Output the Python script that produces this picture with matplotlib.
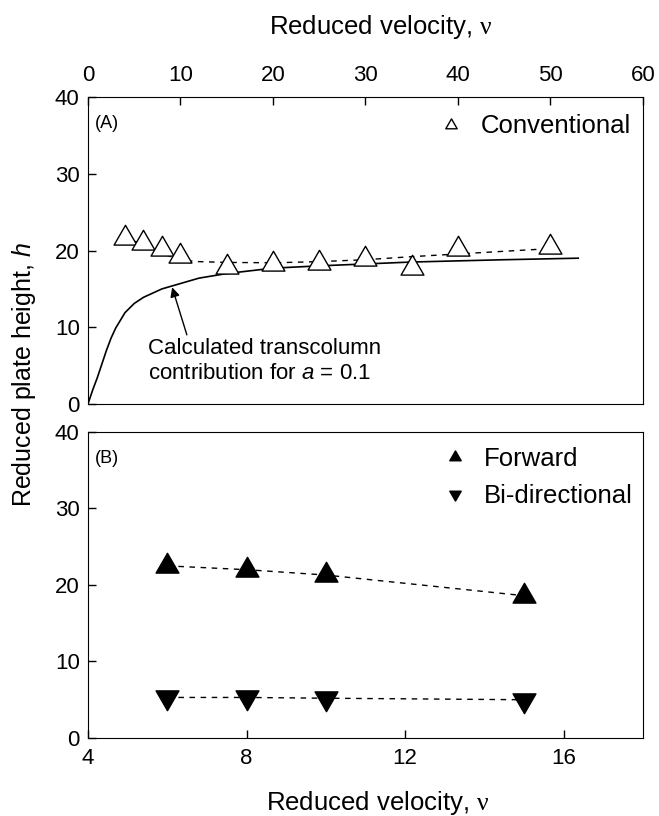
import matplotlib
matplotlib.use("Agg")
import matplotlib.pyplot as plt
from matplotlib.path import Path

plt.rcParams["font.family"] = "Liberation Sans"
plt.rcParams["mathtext.fontset"] = "custom"
plt.rcParams["mathtext.rm"] = "Liberation Serif"
plt.rcParams["mathtext.it"] = "Liberation Sans:italic"

# =========================
# Data
# =========================
# (A) conventional
conv_v = [4, 6, 8, 10, 15, 20, 25, 30, 35, 40, 50]
conv_h = [21.65, 21.0, 20.2, 19.3, 17.8, 18.2, 18.4, 18.85, 17.75, 20.25, 20.5]

# dashed fit through the conventional points
conv_fit_v = [4, 6, 8, 10, 12, 15, 20, 25, 30, 35, 40, 45, 50]
conv_fit_h = [21.8, 20.7, 19.6, 18.75, 18.55, 18.45, 18.4, 18.55, 18.8, 19.2, 19.55, 19.9, 20.25]

# calculated transcolumn contribution (solid curve)
calc_v = [0, 0.5, 1, 1.5, 2, 2.5, 3, 4, 5, 6, 8, 10, 12, 15, 20, 25, 30, 35, 40, 45, 53]
calc_h = [0, 1.8, 3.4, 5.2, 7.0, 8.6, 9.9, 11.9, 13.1, 13.9, 15.0, 15.7, 16.4, 17.0, 17.7, 18.0, 18.25, 18.5, 18.65, 18.8, 19.0]

# (B) forward / bi-directional
fb_v = [6, 8, 10, 15]
fwd_h = [22.5, 22.0, 21.3, 18.6]
bi_h = [5.3, 5.3, 5.2, 5.0]

# equilateral triangles centred on their centroid
up_tri = Path([(-1, -0.577), (1, -0.577), (0, 1.155), (-1, -0.577)], closed=True)
down_tri = Path([(-1, 0.577), (1, 0.577), (0, -1.155), (-1, 0.577)], closed=True)

fig = plt.figure(figsize=(6.59, 8.16), dpi=100)
ax1 = fig.add_axes([0.1335, 0.5049, 0.8422, 0.3762])
ax2 = fig.add_axes([0.1335, 0.0956, 0.8422, 0.3750])

tick_fs = 16
leg_fs = 18.5
dash = (0, (4, 4))

# =========================
# Panel A
# =========================
ax1.plot(conv_fit_v, conv_fit_h, color="black", lw=1, linestyle=dash)
ax1.plot(calc_v, calc_h, color="black", lw=1.2)
ax1.plot(conv_v, conv_h, linestyle="none", marker=up_tri, ms=19,
         mfc="white", mec="black", mew=1, label="Conventional")

ax1.set_xlim(0, 60)
ax1.set_ylim(0, 40)
ax1.set_xticks([0, 10, 20, 30, 40, 50, 60])
ax1.set_yticks([0, 10, 20, 30, 40])
ax1.xaxis.tick_top()
ax1.tick_params(direction="in", length=6, width=1, labelsize=tick_fs, top=True,
                bottom=False, left=True, right=False)
ax1.tick_params(axis="x", pad=8)
ax1.tick_params(axis="y", pad=6)
ax1.text(0.012, 0.915, "(A)", transform=ax1.transAxes, fontsize=13, va="center")

ax1.annotate("Calculated transcolumn\ncontribution for $\\mathit{a}$ = 0.1",
             xy=(9.1, 15.2), xytext=(6.5, 5.6), fontsize=16,
             ha="left", va="center", linespacing=1.3,
             arrowprops=dict(arrowstyle="-|>", color="black", lw=1,
                             shrinkA=0, shrinkB=0, mutation_scale=14,
                             relpos=(0.17, 1.0)))

ax1.legend(loc="upper right", bbox_to_anchor=(1.009, 1.0), frameon=False,
           fontsize=leg_fs, markerscale=0.5, handlelength=1.0,
           handletextpad=0.63, borderaxespad=0.28)

# =========================
# Panel B
# =========================
ax2.plot(fb_v, fwd_h, color="black", lw=1, linestyle=dash)
ax2.plot(fb_v, bi_h, color="black", lw=1, linestyle=dash)
ax2.plot(fb_v, fwd_h, linestyle="none", marker=up_tri, ms=19,
         mfc="black", mec="black", label="Forward")
ax2.plot(fb_v, bi_h, linestyle="none", marker=down_tri, ms=19,
         mfc="black", mec="black", label="Bi-directional")

ax2.set_xlim(4, 18)
ax2.set_ylim(0, 40)
ax2.set_xticks([4, 8, 12, 16])
ax2.set_yticks([0, 10, 20, 30, 40])
ax2.tick_params(direction="in", length=6, width=1, labelsize=tick_fs, top=False,
                bottom=True, left=True, right=False)
ax2.tick_params(axis="x", pad=7)
ax2.tick_params(axis="y", pad=6)
ax2.text(0.012, 0.915, "(B)", transform=ax2.transAxes, fontsize=13, va="center")

ax2.legend(loc="upper right", bbox_to_anchor=(1.009, 1.0), frameon=False,
           fontsize=leg_fs, markerscale=0.5, handlelength=1.0,
           handletextpad=0.63, borderaxespad=0.2, labelspacing=0.5)

# =========================
# Axis titles
# =========================
fig.text(381 / 659, 1 - 27 / 816, "Reduced velocity, $\\mathrm{\\nu}$",
         ha="center", va="center", fontsize=leg_fs)
fig.text(378 / 659, 1 - 803 / 816, "Reduced velocity, $\\mathrm{\\nu}$",
         ha="center", va="center", fontsize=leg_fs)
fig.text(24 / 659, 1 - 375 / 816, "Reduced plate height, $\\mathit{h}$",
         ha="center", va="center", rotation=90, fontsize=18)

fig.savefig("out.png", dpi=100)
